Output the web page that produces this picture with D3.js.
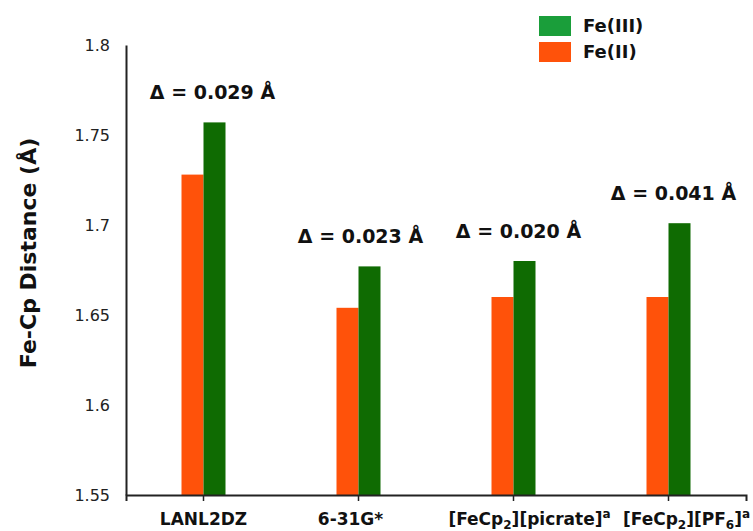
<!DOCTYPE html>
<html><head><meta charset="utf-8">
<script src="https://cdn.jsdelivr.net/npm/d3@7"></script>
<style>body{margin:0;background:#fff;overflow:hidden;} svg{display:block;}</style>
</head><body>
<script>
const categories = ["LANL2DZ", "6-31G*", "picrate", "PF6"];
const feII = [1.728, 1.654, 1.660, 1.660];
const feIII = [1.757, 1.677, 1.680, 1.701];
const deltaLabels = ["Δ = 0.029 Å", "Δ = 0.023 Å", "Δ = 0.020 Å", "Δ = 0.041 Å"];
const yTicks = [1.55, 1.6, 1.65, 1.7, 1.75, 1.8];
const seriesNames = ["Fe(III)", "Fe(II)"];

const W = 753, H = 531;
const svg = d3.select("body").append("svg").attr("width", W).attr("height", H);
const font = "Tahoma, 'DejaVu Sans', sans-serif";

const x = d3.scaleBand().domain(categories).range([126, 746]);
const y = d3.scaleLinear().domain([1.55, 1.8]).range([495, 45]);
const barW = 22;

// bars
const g = svg.append("g");
categories.forEach((c, i) => {
  const cx = x(c) + x.bandwidth() / 2;
  g.append("rect").attr("x", cx - barW).attr("y", y(feII[i])).attr("width", barW)
    .attr("height", y(1.55) - y(feII[i])).attr("fill", "#ff520a");
  g.append("rect").attr("x", cx).attr("y", y(feIII[i])).attr("width", barW)
    .attr("height", y(1.55) - y(feIII[i])).attr("fill", "#0f6b02");
});

// y axis
const yAxis = svg.append("g").attr("transform", "translate(126,0)")
  .call(d3.axisLeft(y).tickValues(yTicks).tickSize(0).tickPadding(16).tickFormat(d => String(+d.toFixed(2))));
yAxis.select(".domain").attr("stroke", "#222").attr("stroke-width", 2);
yAxis.selectAll("text").attr("font-family", font).attr("font-size", 16).attr("fill", "#222");

// x axis
const xAxis = svg.append("g").attr("transform", "translate(0,495)")
  .call(d3.axisBottom(x).tickSize(6).tickSizeOuter(6).tickFormat(""));
xAxis.select(".domain").attr("stroke", "#222").attr("stroke-width", 2);
xAxis.selectAll(".tick line").attr("stroke", "#222").attr("stroke-width", 1.5);

// x labels with sub/superscripts
const xl = svg.append("g").attr("font-family", font).attr("font-size", 17).attr("font-weight", "bold").attr("fill", "#111");
function lab(cat, dx, parts) {
  const t = xl.append("text").attr("x", x(cat) + x.bandwidth() / 2 + dx).attr("y", 525).attr("text-anchor", "middle");
  parts.forEach(p => {
    const s = t.append("tspan").text(p[0]);
    if (p[1] === "sub") s.attr("font-size", 12).attr("dy", 4);
    else if (p[1] === "sup") s.attr("font-size", 12).attr("dy", -7);
    else if (p[1] === "back") s.attr("dy", -4);
  });
}
lab(categories[0], 0, [["LANL2DZ"]]);
lab(categories[1], -8, [["6-31G*"]]);
lab(categories[2], 16, [["[FeCp"], ["2", "sub"], ["][picrate]", "back"], ["a", "sup"]]);
lab(categories[3], 18, [["[FeCp"], ["2", "sub"], ["][PF", "back"], ["6", "sub"], ["]", "back"], ["a", "sup"]]);

// delta labels
const deltaDx = [9, 2, 5, 5];
categories.forEach((c, i) => {
  const cx = x(c) + x.bandwidth() / 2;
  svg.append("text").attr("x", cx + deltaDx[i]).attr("y", y(feIII[i]) - 23)
    .attr("text-anchor", "middle").attr("font-family", font).attr("font-size", 19)
    .attr("font-weight", "bold").attr("fill", "#111").text(deltaLabels[i]);
});

// y title
svg.append("text").attr("transform", "translate(36,253) rotate(-90)").attr("text-anchor", "middle")
  .attr("font-family", font).attr("font-size", 22).attr("font-weight", "bold").attr("fill", "#111")
  .text("Fe-Cp Distance (Å)");

// legend
const legColors = ["#1a9e3a", "#ff520a"];
seriesNames.forEach((n, i) => {
  svg.append("rect").attr("x", 539).attr("y", 16 + i * 26).attr("width", 32).attr("height", 20).attr("fill", legColors[i]);
  svg.append("text").attr("x", 583).attr("y", 26 + i * 26).attr("dy", "0.36em")
    .attr("font-family", font).attr("font-size", 18).attr("font-weight", "bold").attr("fill", "#111").text(n);
});
</script>
</body></html>
